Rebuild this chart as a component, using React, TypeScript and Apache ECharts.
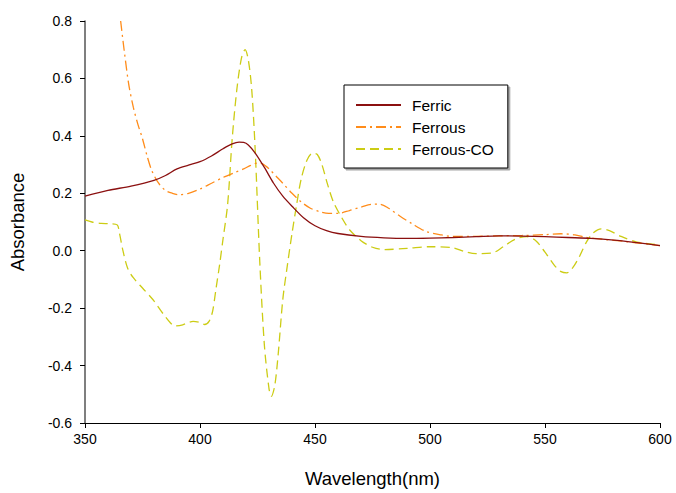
import React, { useEffect, useRef } from "react";
import * as echarts from "echarts";

const ferricWl = [350, 360, 370, 380, 385, 390, 395, 400, 405, 410, 414, 417, 419, 421, 424, 428, 432, 436, 440, 445, 450, 455, 460, 470, 480, 490, 500, 510, 520, 530, 540, 550, 560, 570, 580, 590, 600];
const ferricAbs = [0.19, 0.21, 0.225, 0.245, 0.262, 0.285, 0.298, 0.31, 0.33, 0.355, 0.372, 0.378, 0.377, 0.368, 0.34, 0.29, 0.235, 0.19, 0.155, 0.115, 0.087, 0.07, 0.06, 0.05, 0.045, 0.043, 0.044, 0.046, 0.049, 0.052, 0.051, 0.049, 0.046, 0.043, 0.037, 0.028, 0.018];

const ferrousWl = [365.5, 367, 369, 371, 373, 375, 377, 379, 382, 385, 388, 391, 395, 400, 405, 410, 415, 419, 422, 425, 427, 430, 433, 436, 440, 444, 448, 452, 456, 460, 465, 470, 475, 478, 482, 487, 492, 498, 505, 510, 520, 530, 540, 550, 557, 563, 568, 575, 585, 600];
const ferrousAbs = [0.8, 0.7, 0.58, 0.5, 0.44, 0.39, 0.33, 0.28, 0.235, 0.21, 0.2, 0.195, 0.2, 0.215, 0.235, 0.255, 0.272, 0.285, 0.297, 0.305, 0.303, 0.285, 0.26, 0.235, 0.2, 0.17, 0.148, 0.136, 0.13, 0.13, 0.14, 0.152, 0.162, 0.162, 0.148, 0.12, 0.095, 0.068, 0.055, 0.05, 0.05, 0.052, 0.053, 0.056, 0.059, 0.055, 0.046, 0.04, 0.032, 0.018];

const coWl = [350, 353, 357, 361, 364, 365, 366.5, 368.5, 371, 375, 379.5, 384, 387, 389, 392.5, 395, 397, 400, 402, 404, 405.5, 407, 408.5, 410, 412, 414, 416, 418, 419.6, 421, 422.5, 424, 426, 428, 430, 431, 432.5, 434, 436, 438, 440, 442, 444, 446.5, 449, 451, 453, 455.5, 458, 462, 465, 470, 475, 480, 490, 500, 510, 515, 520, 527, 532, 537, 542, 546, 550, 554, 557, 559.5, 562, 565, 568, 571, 574.5, 578, 583, 590, 600];
const coAbs = [0.107, 0.1, 0.095, 0.094, 0.09, 0.06, 0.0, -0.06, -0.094, -0.13, -0.17, -0.22, -0.25, -0.262, -0.258, -0.25, -0.246, -0.25, -0.257, -0.245, -0.21, -0.13, -0.05, 0.04, 0.16, 0.39, 0.56, 0.67, 0.7, 0.665, 0.56, 0.35, -0.04, -0.33, -0.48, -0.507, -0.47, -0.36, -0.17, -0.05, 0.06, 0.16, 0.25, 0.315, 0.34, 0.335, 0.3, 0.23, 0.17, 0.11, 0.073, 0.035, 0.012, 0.004, 0.008, 0.014, 0.01, -0.003, -0.01, -0.008, 0.015, 0.04, 0.049, 0.035, -0.005, -0.05, -0.073, -0.077, -0.06, -0.02, 0.03, 0.062, 0.076, 0.07, 0.05, 0.03, 0.02];

const xTicks = { min: 350, max: 600, interval: 50 };
const yTicks = { min: -0.6, max: 0.8, interval: 0.2 };

const zip = (xs: number[], ys: number[]) => xs.map((x, i) => [x, ys[i]]);

const FONT = "Liberation Sans, Arial, sans-serif";

export default function App() {
  const ref = useRef<HTMLDivElement>(null);
  useEffect(() => {
    if (!ref.current) return;
    const chart = echarts.init(ref.current, undefined, { renderer: "svg" });
    chart.setOption({
      animation: false,
      backgroundColor: "#ffffff",
      textStyle: { fontFamily: FONT },
      grid: { left: 85, right: 16, top: 21, bottom: 69 },
      legend: {
        orient: "vertical",
        left: 344,
        top: 85,
        padding: [12, 14, 11, 11],
        itemWidth: 45,
        itemHeight: 14,
        itemGap: 6,
        borderColor: "#000",
        borderWidth: 1,
        backgroundColor: "#fff",
        shadowColor: "rgba(0,0,0,0.35)",
        shadowOffsetX: 2,
        shadowOffsetY: 2,
        shadowBlur: 0,
        itemStyle: { opacity: 0 },
        textStyle: { fontSize: 15.5, color: "#000", fontFamily: FONT, padding: [0, 0, 0, 6] },
        data: ["Ferric", "Ferrous", "Ferrous-CO"],
      },
      xAxis: {
        type: "value",
        min: xTicks.min,
        max: xTicks.max,
        interval: xTicks.interval,
        name: "Wavelength(nm)",
        nameLocation: "middle",
        nameGap: 46,
        nameTextStyle: { fontSize: 18.5, color: "#000", fontFamily: FONT },
        axisLine: { onZero: false, lineStyle: { color: "#000", width: 1 } },
        axisTick: { show: true, inside: false, length: 5, lineStyle: { color: "#000" } },
        axisLabel: { fontSize: 14, color: "#000", margin: 9, fontFamily: FONT },
        splitLine: { show: false },
      },
      yAxis: {
        type: "value",
        min: yTicks.min,
        max: yTicks.max,
        interval: yTicks.interval,
        name: "Absorbance",
        nameLocation: "middle",
        nameGap: 58,
        nameRotate: 90,
        nameTextStyle: { fontSize: 18.5, color: "#000", fontFamily: FONT },
        axisLine: { show: true, lineStyle: { color: "#555", width: 1.5 } },
        axisTick: { show: true, inside: false, length: 5, lineStyle: { color: "#000" } },
        axisLabel: {
          fontSize: 14,
          color: "#000",
          margin: 13,
          fontFamily: FONT,
          formatter: (v: number) => {
            const r = Math.round(v * 10) / 10;
            return (Math.abs(r) < 1e-9 ? 0 : r).toFixed(1);
          },
        },
        splitLine: { show: false },
      },
      series: [
        {
          name: "Ferric",
          type: "line",
          data: zip(ferricWl, ferricAbs),
          showSymbol: false,
          symbol: "none",
          smooth: 0.3,
          lineStyle: { color: "#8B1010", width: 1.3, type: "solid" },
          itemStyle: { color: "#8B1010" },
          z: 3,
        },
        {
          name: "Ferrous",
          type: "line",
          data: zip(ferrousWl, ferrousAbs),
          showSymbol: false,
          symbol: "none",
          smooth: 0.3,
          lineStyle: { color: "#FF8C1A", width: 1.3, type: [10, 4, 2, 4] },
          itemStyle: { color: "#FF8C1A" },
          z: 2,
        },
        {
          name: "Ferrous-CO",
          type: "line",
          data: zip(coWl, coAbs),
          showSymbol: false,
          symbol: "none",
          smooth: 0.3,
          lineStyle: { color: "#CCCC14", width: 1.3, type: [9, 5] },
          itemStyle: { color: "#CCCC14" },
          z: 1,
        },
      ],
    });
    return () => chart.dispose();
  }, []);
  return <div ref={ref} style={{ width: 676, height: 493, position: "absolute", left: 0, top: 0 }} />;
}
